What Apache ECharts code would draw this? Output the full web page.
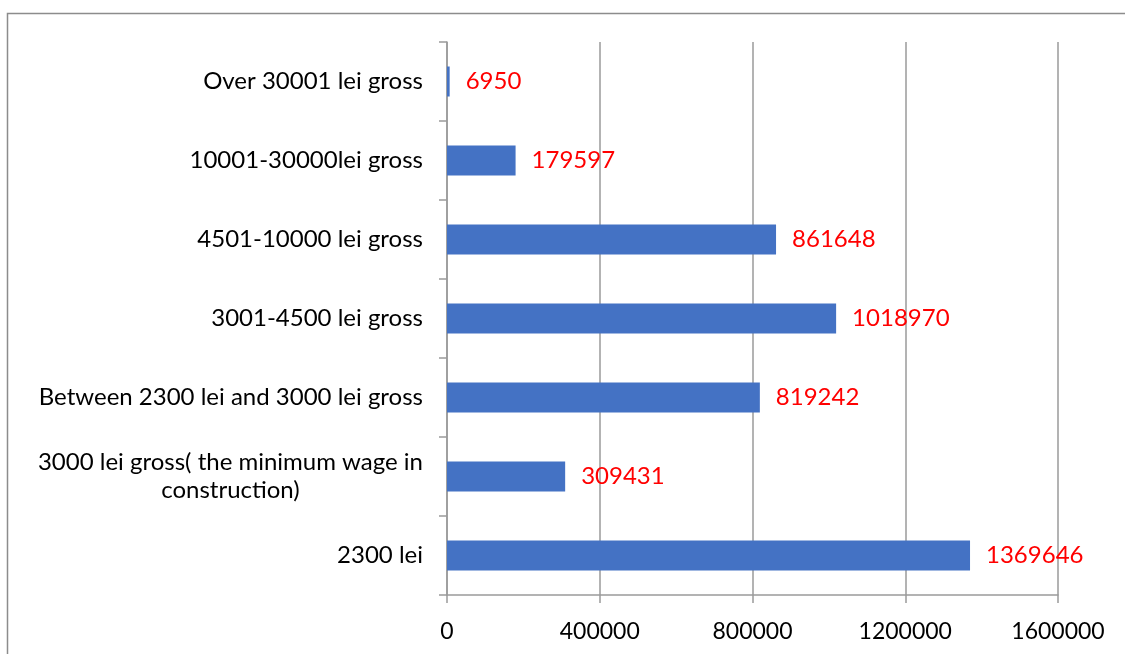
<!DOCTYPE html>
<html>
<head>
<meta charset="utf-8">
<script src="https://cdn.jsdelivr.net/npm/echarts@6/dist/echarts.min.js"></script>
<style>
html,body{margin:0;padding:0;background:#fff;}
#c{width:1125px;height:654px;}
</style>
</head>
<body>
<div id="c"></div>
<script>
const categories = [
  '2300 lei',
  '3000 lei gross( the minimum wage in\nconstruction)',
  'Between 2300 lei and 3000 lei gross',
  '3001-4500 lei gross',
  '4501-10000 lei gross',
  '10001-30000lei gross',
  'Over 30001 lei gross'
];
const values = [1369646, 309431, 819242, 1018970, 861648, 179597, 6950];
const xTicks = { min: 0, max: 1600000, interval: 400000 };

const chart = echarts.init(document.getElementById('c'), null, { renderer: 'canvas' });
const FONT = 'Lato';
chart.setOption({
  backgroundColor: '#ffffff',
  animation: false,
  graphic: [{
    type: 'rect',
    shape: { x: 7.5, y: 13.5, width: 1200, height: 700 },
    style: { fill: 'none', stroke: '#8c8c8c', lineWidth: 1.5 },
    silent: true, z: -1
  }],
  grid: { left: 447, right: 67, top: 42, bottom: 59 },
  xAxis: {
    type: 'value',
    min: xTicks.min, max: xTicks.max, interval: xTicks.interval,
    axisLine: { show: true, lineStyle: { color: '#9a9a9a', width: 1.5 } },
    axisTick: { show: true, length: 8, lineStyle: { color: '#9a9a9a', width: 1.5 } },
    splitLine: { show: true, lineStyle: { color: '#9a9a9a', width: 1.5 } },
    axisLabel: {
      color: '#000', fontFamily: FONT, fontSize: 23, margin: 25,
      formatter: function (v) { return String(v); }
    }
  },
  yAxis: {
    type: 'category',
    data: categories,
    axisLine: { show: true, lineStyle: { color: '#9a9a9a', width: 1.5 } },
    axisTick: { show: true, length: 8, lineStyle: { color: '#9a9a9a', width: 1.5 } },
    axisLabel: {
      color: '#000', fontFamily: FONT, fontSize: 24, margin: 24, lineHeight: 28,
      formatter: function (v) {
        return v.split('\n').map(function (s) { return '{c|' + s + '}'; }).join('\n');
      },
      rich: { c: { align: 'center', fontFamily: FONT, fontSize: 24, lineHeight: 28, color: '#000' } }
    }
  },
  series: [{
    type: 'bar',
    data: values,
    barWidth: 30,
    itemStyle: { color: '#4472C4' },
    label: {
      show: true, position: 'right', distance: 16,
      color: '#FF0000', fontFamily: FONT, fontSize: 24
    }
  }]
});
</script>
</body>
</html>
